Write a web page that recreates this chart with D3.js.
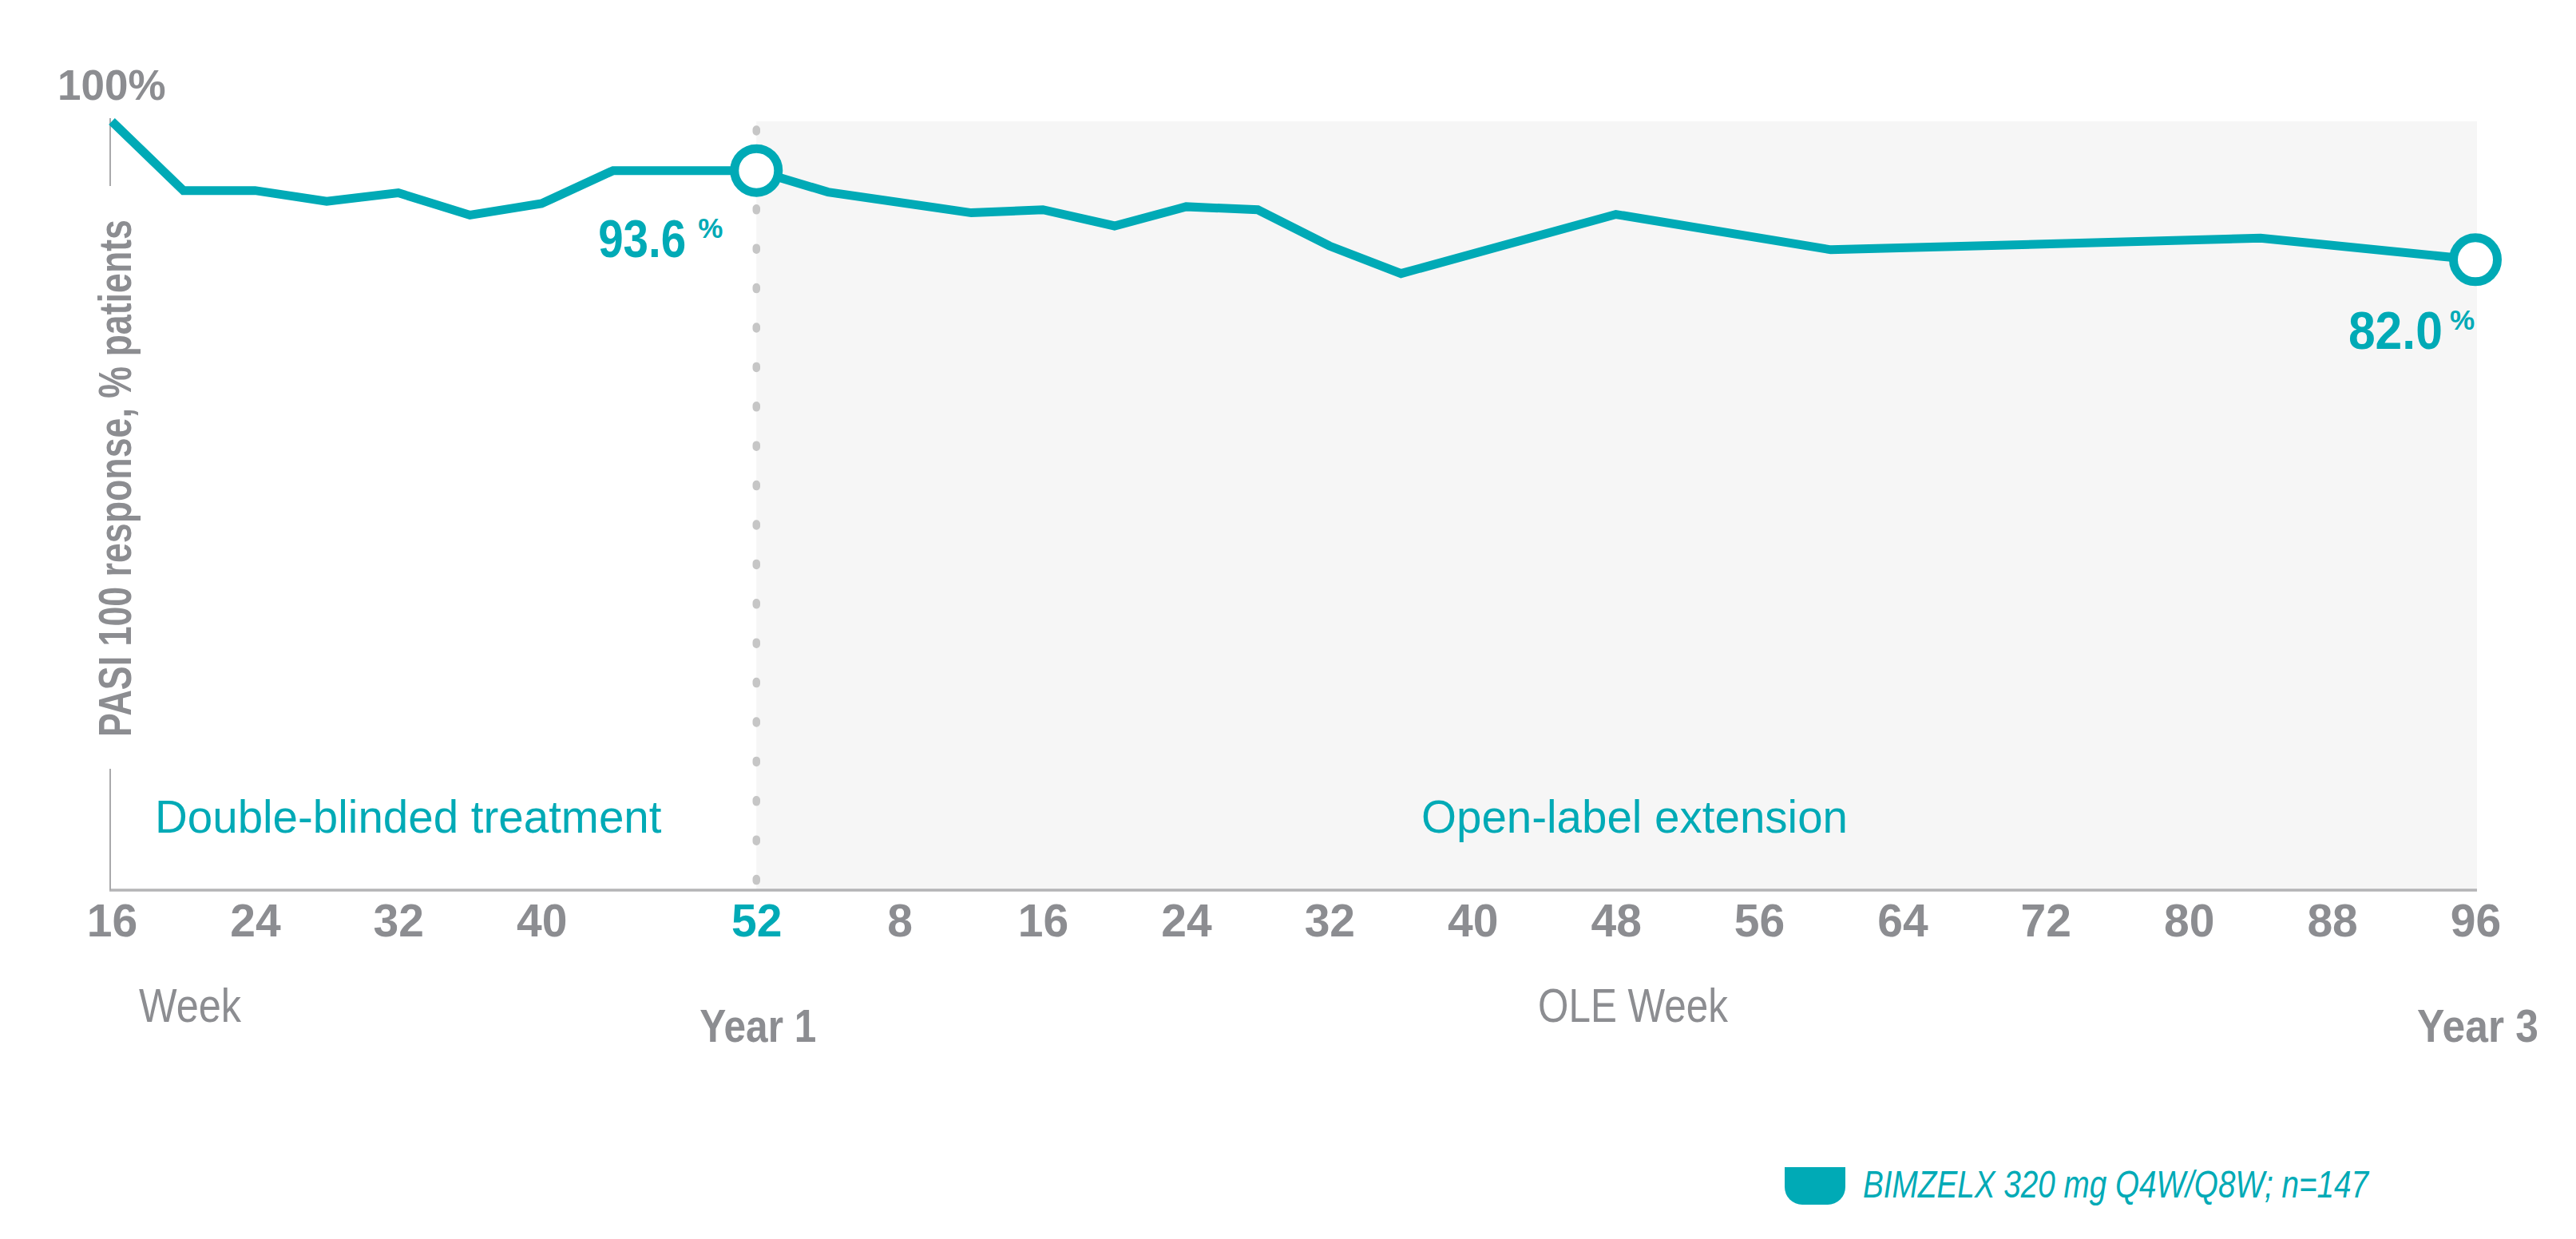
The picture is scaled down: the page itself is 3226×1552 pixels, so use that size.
<!DOCTYPE html>
<html>
<head>
<meta charset="utf-8">
<script src="https://cdn.jsdelivr.net/npm/d3@7"></script>
<style>
  html, body { margin: 0; padding: 0; background: #ffffff; }
  svg { display: block; }
</style>
</head>
<body>
<svg id="chart" width="3226" height="1552"></svg>
<script>
// ---------------- DATA ----------------
// Double-blinded period (study weeks)
const dbWeeks  = [16, 20, 24, 28, 32, 36, 40, 44, 48, 52];
const dbValues = [100, 91.0, 91.0, 89.6, 90.7, 87.8, 89.3, 93.6, 93.6, 93.6];
// Open-label extension (OLE weeks, counted from week 52)
const oleWeeks  = [4, 12, 16, 20, 24, 28, 32, 36, 48, 60, 84, 96];
const oleValues = [90.8, 88.1, 88.5, 86.4, 88.9, 88.5, 83.8, 80.2, 87.9, 83.3, 84.8, 82.0];
// Tick labels
const dbTicks  = [16, 24, 32, 40, 52];
const oleTicks = [8, 16, 24, 32, 40, 48, 56, 64, 72, 80, 88, 96];
// Highlighted points & their labels
const highlightWeeks  = [52, 148];
const highlightLabels = ["93.6", "82.0"];
const seriesName = "BIMZELX 320 mg Q4W/Q8W; n=147";
const yAxisTitle = "PASI 100 response, % patients";
const phaseLabels = ["Double-blinded treatment", "Open-label extension"];
const oleOffset = 52;

// ---------------- STYLE ----------------
const TEAL = "#00aab6";
const GREY = "#8c8d91";
const REG = "'Liberation Sans', Arial, Helvetica, sans-serif";
const NARROW = "'Liberation Sans Narrow', 'Arial Narrow', 'Liberation Sans', Arial, sans-serif";

const svg = d3.select("#chart");

const points = dbWeeks.map((w, i) => ({ w, v: dbValues[i] }))
  .concat(oleWeeks.map((w, i) => ({ w: w + oleOffset, v: oleValues[i] })));

const x = d3.scaleLinear().domain([16, 148]).range([140, 3100]);
const y = d3.scaleLinear().domain([0, 100]).range([1115, 152]);

function fit(sel, target) {
  const n = sel.node();
  const L = n.getComputedTextLength();
  if (L > target * 1.04 || L < target * 0.9) {
    sel.attr("textLength", target).attr("lengthAdjust", "spacingAndGlyphs");
  }
  return sel;
}

// Open-label shaded background
svg.append("rect")
  .attr("x", x(52)).attr("y", y(100))
  .attr("width", x(148) - x(52) + 2).attr("height", y(0) - y(100))
  .attr("fill", "#f6f6f6");

// dotted divider at week 52
svg.append("line")
  .attr("x1", x(52)).attr("x2", x(52))
  .attr("y1", y(100) + 10).attr("y2", y(0) - 6)
  .attr("stroke", "#c6c6c6").attr("stroke-width", 9.5)
  .attr("stroke-linecap", "round")
  .attr("stroke-dasharray", "3 46.4");

// X axis
const xTicks = dbTicks.concat(oleTicks.map(t => t + oleOffset));
const xAxis = d3.axisBottom(x)
  .tickValues(xTicks)
  .tickSize(0)
  .tickSizeOuter(0)
  .tickFormat(d => d > oleOffset ? String(d - oleOffset) : String(d));
const gx = svg.append("g").attr("transform", `translate(0,${y(0)})`).call(xAxis);
gx.select(".domain")
  .attr("stroke", "#b4b4b6").attr("stroke-width", 3.5)
  .attr("d", `M${x(16) - 3},0H${x(148) + 2}`);
gx.selectAll(".tick text")
  .attr("y", 58).attr("dy", null)
  .attr("font-family", REG).attr("font-weight", "bold").attr("font-size", 57)
  .attr("fill", d => d === 52 ? TEAL : GREY);

// Y axis (no ticks, line broken by the title)
const yLabelCenter = 599;
const gy = svg.append("g");
gy.append("line")
  .attr("x1", x(16) - 2).attr("x2", x(16) - 2)
  .attr("y1", y(100) - 4).attr("y2", yLabelCenter - 366)
  .attr("stroke", "#a9a9ab").attr("stroke-width", 2);
gy.append("line")
  .attr("x1", x(16) - 2).attr("x2", x(16) - 2)
  .attr("y1", yLabelCenter + 364).attr("y2", y(0))
  .attr("stroke", "#a9a9ab").attr("stroke-width", 2);
const yt = gy.append("text")
  .attr("transform", `translate(164,${yLabelCenter}) rotate(-90)`)
  .attr("text-anchor", "middle")
  .attr("font-family", NARROW).attr("font-weight", "bold").attr("font-size", 57)
  .attr("fill", GREY)
  .text(yAxisTitle);
fit(yt, 648);

// 100% label
svg.append("text")
  .attr("x", 72).attr("y", 125)
  .attr("font-family", REG).attr("font-weight", "bold").attr("font-size", 53)
  .attr("fill", GREY)
  .text("100%");

// Phase labels
svg.append("text")
  .attr("x", 194).attr("y", 1043)
  .attr("font-family", REG).attr("font-size", 56.5)
  .attr("fill", TEAL)
  .text(phaseLabels[0]);
svg.append("text")
  .attr("x", 2047).attr("y", 1043)
  .attr("text-anchor", "middle")
  .attr("font-family", REG).attr("font-size", 56.5)
  .attr("fill", TEAL)
  .text(phaseLabels[1]);

// Axis titles
const wk = svg.append("text")
  .attr("x", 174).attr("y", 1280)
  .attr("font-family", NARROW).attr("font-size", 60)
  .attr("fill", GREY).text("Week");
fit(wk, 128);
const olewk = svg.append("text")
  .attr("x", 2045).attr("y", 1280).attr("text-anchor", "middle")
  .attr("font-family", NARROW).attr("font-size", 60)
  .attr("fill", GREY).text("OLE Week");
fit(olewk, 238);
const y1 = svg.append("text")
  .attr("x", x(52) + 2).attr("y", 1305).attr("text-anchor", "middle")
  .attr("font-family", NARROW).attr("font-weight", "bold").attr("font-size", 58)
  .attr("fill", GREY).text("Year 1");
fit(y1, 146);
const y3 = svg.append("text")
  .attr("x", x(148) + 3).attr("y", 1305).attr("text-anchor", "middle")
  .attr("font-family", NARROW).attr("font-weight", "bold").attr("font-size", 58)
  .attr("fill", GREY).text("Year 3");
fit(y3, 152);

// Line
const line = d3.line().x(d => x(d.w)).y(d => y(d.v));
svg.append("path")
  .datum(points)
  .attr("d", line)
  .attr("fill", "none")
  .attr("stroke", TEAL)
  .attr("stroke-width", 11)
  .attr("stroke-linejoin", "miter");

// Highlight circles
const hl = points.filter(p => highlightWeeks.includes(p.w));
svg.selectAll("circle.hl").data(hl).enter().append("circle")
  .attr("class", "hl")
  .attr("cx", d => x(d.w)).attr("cy", d => y(d.v))
  .attr("r", 27.5)
  .attr("fill", "#ffffff").attr("stroke", TEAL).attr("stroke-width", 11);

// value labels (number + superscript %)
const labelOffsets = [{ ex: -42, ny: 108, gap: 15, len: 110 }, { ex: -1, ny: 112, gap: 9, len: 118 }];
hl.forEach((d, i) => {
  const o = labelOffsets[i];
  const t = svg.append("text")
    .attr("x", x(d.w) + o.ex).attr("y", y(d.v) + o.ny)
    .attr("text-anchor", "end")
    .attr("font-family", NARROW).attr("font-weight", "bold")
    .attr("fill", TEAL);
  const num = t.append("tspan").attr("font-size", 66).text(highlightLabels[i]);
  const nl = num.node().getComputedTextLength();
  if (nl > o.len * 1.04) {
    num.attr("textLength", o.len).attr("lengthAdjust", "spacingAndGlyphs");
  }
  t.append("tspan").attr("font-size", 35).attr("dx", o.gap).attr("dy", -24).text("%");
});

// Legend
svg.append("path")
  .attr("d", "M2235,1462H2311V1487A22,22 0 0 1 2289,1509H2257A22,22 0 0 1 2235,1487Z")
  .attr("fill", TEAL);
const lg = svg.append("text")
  .attr("x", 2333).attr("y", 1500)
  .attr("font-family", NARROW).attr("font-style", "italic").attr("font-size", 48)
  .attr("fill", TEAL).text(seriesName);
fit(lg, 633);
</script>
</body>
</html>
